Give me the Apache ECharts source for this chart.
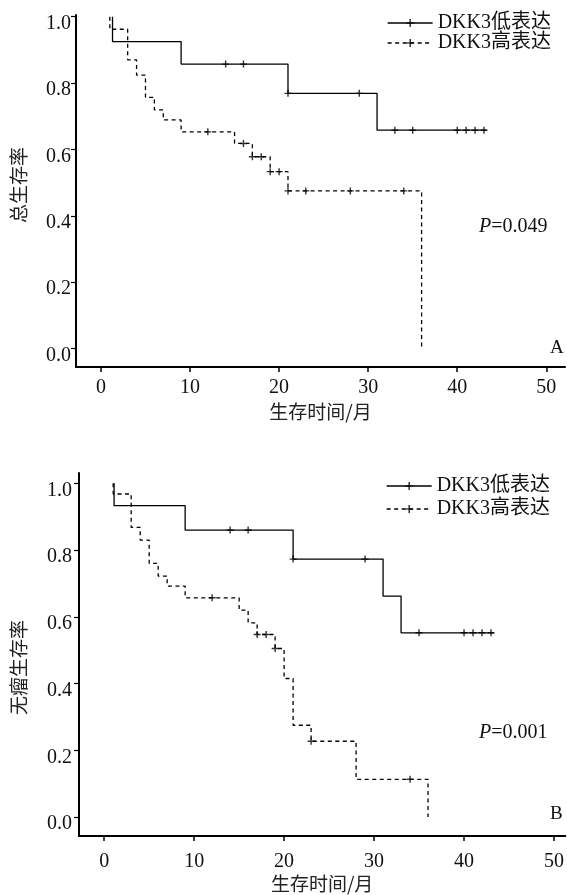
<!DOCTYPE html>
<html>
<head>
<meta charset="utf-8">
<script src="https://cdn.jsdelivr.net/npm/echarts@6/dist/echarts.min.js"></script>
<style>
html,body{margin:0;padding:0;background:#fff;}
#chart{width:567px;height:895px;}
</style>
</head>
<body>
<div id="chart"></div>
<script>
// ---- data ----
const seriesNames = ['DKK3低表达', 'DKK3高表达'];
const xTicks = [0, 10, 20, 30, 40, 50];
const yTicks = [0, 0.2, 0.4, 0.6, 0.8, 1.0];
const xTitle = '生存时间/月';
const yTitleA = '总生存率';
const yTitleB = '无瘤生存率';
const pTextA = 'P=0.049';
const pTextB = 'P=0.001';

// Panel A: overall survival
const osLowEventT = [1.3, 9, 21, 31];
const osLowSurv = [0.925, 0.857, 0.769, 0.658];
const osLowEnd = 43.3;
const osLowCensor = [14, 16, 21, 29, 33, 35, 40, 41, 42, 43];

const osHighEventT = [1, 3, 4, 5, 6, 7, 9, 15, 17, 19, 21, 36];
const osHighSurv = [0.962, 0.870, 0.824, 0.757, 0.719, 0.689, 0.653, 0.618, 0.578, 0.533, 0.475, 0.0];
const osHighEnd = 36;
const osHighCensor = [12, 16, 17, 18, 19, 20, 21, 23, 28, 34];

// Panel B: tumor-free survival
const dfsLowEventT = [1.1, 9, 21, 31, 33];
const dfsLowSurv = [0.933, 0.860, 0.773, 0.662, 0.552];
const dfsLowEnd = 43.3;
const dfsLowCensor = [14, 16, 21, 29, 35, 40, 41, 42, 43];

const dfsHighEventT = [1, 3, 4, 5, 6, 7, 9, 15, 16, 17, 19, 20, 21, 23, 28, 36];
const dfsHighSurv = [0.968, 0.868, 0.830, 0.760, 0.722, 0.692, 0.657, 0.620, 0.582, 0.547, 0.505, 0.415, 0.275, 0.227, 0.113, 0.0];
const dfsHighEnd = 36;
const dfsHighCensor = [12, 17, 18, 19, 23, 34];

// ---- helpers ----
function kmSteps(eventT, surv, endT) {
  const pts = [[eventT[0], 1]];
  let prev = 1;
  eventT.forEach((t, i) => { pts.push([t, prev]); pts.push([t, surv[i]]); prev = surv[i]; });
  if (endT > eventT[eventT.length - 1]) pts.push([endT, prev]);
  return pts;
}
function survAt(eventT, surv, t) {
  let s = 1;
  for (let i = 0; i < eventT.length; i++) if (eventT[i] <= t) s = surv[i];
  return s;
}
function censorPts(eventT, surv, cens) {
  return cens.map(t => [t, survAt(eventT, surv, t)]);
}

const SERIF = '"Liberation Serif", "Times New Roman", "Noto Sans CJK SC", serif';
const CJK = '"Noto Sans CJK SC", sans-serif';
const INK = '#111';
const PLUS = 'path://M5,0L5,10M0,5L10,5';
const DASH = [4, 3.5];

function lineSeries(name, data, idx, dashed) {
  return {
    type: 'line', name: name, data: data, xAxisIndex: idx, yAxisIndex: idx,
    symbol: PLUS, showSymbol: false, silent: true, animation: false,
    itemStyle: { color: '#000', borderColor: '#000', borderWidth: 1.3 },
    lineStyle: { color: '#000', width: 1.3, type: dashed ? DASH : 'solid' },
    z: 3
  };
}
function censorSeries(data, idx) {
  return {
    type: 'scatter', name: 'censor' + idx, data: data, xAxisIndex: idx, yAxisIndex: idx,
    symbol: PLUS, symbolSize: 7, silent: true, animation: false,
    itemStyle: { color: 'transparent', borderColor: '#000', borderWidth: 1.4 },
    z: 4
  };
}

function xAxisCfg(idx, max, margin, gap) {
  return {
    type: 'value', gridIndex: idx, min: -2.8, max: max,
    name: xTitle, nameLocation: 'middle', nameGap: gap,
    nameTextStyle: { fontFamily: CJK, fontSize: 19, color: '#222' },
    axisLine: { show: true, onZero: false, lineStyle: { color: '#000', width: 2 } },
    axisTick: { show: true, customValues: xTicks, length: 5, lineStyle: { color: '#000', width: 1.5 } },
    axisLabel: { show: true, customValues: xTicks, margin: margin, fontFamily: SERIF, fontSize: 20, color: INK },
    splitLine: { show: false }
  };
}
function yAxisCfg(idx, min, max, name, gap, margin, pad) {
  return {
    type: 'value', gridIndex: idx, min: min, max: max,
    name: name, nameLocation: 'middle', nameGap: gap,
    nameTextStyle: { fontFamily: CJK, fontSize: 19, color: '#222', padding: pad },
    axisLine: { show: true, onZero: false, lineStyle: { color: '#000', width: 2 } },
    axisTick: { show: true, customValues: yTicks, length: 5, lineStyle: { color: '#000', width: 1.2 } },
    axisLabel: {
      show: true, customValues: yTicks, margin: margin, fontFamily: SERIF, fontSize: 20, color: INK,
      verticalAlign: 'top', lineHeight: 14,
      formatter: v => Number(v).toFixed(1)
    },
    splitLine: { show: false }
  };
}
function legendCfg(left, top, gap) {
  return {
    left: left, top: top, orient: 'vertical', itemWidth: 45, itemHeight: 10, itemGap: gap,
    selectedMode: false,
    textStyle: { fontFamily: SERIF, fontSize: 20, color: INK },
    itemStyle: { color: 'transparent', borderColor: '#000', borderWidth: 1.2 },
    data: [
      { name: seriesNames[0], lineStyle: { type: 'solid', width: 1.3, color: '#000' } },
      { name: seriesNames[1], lineStyle: { type: DASH, width: 1.3, color: '#000' } }
    ]
  };
}
function pText(txt, left, top) {
  return {
    type: 'text', left: left, top: top, silent: true,
    style: {
      text: '{i|' + txt.charAt(0) + '}' + txt.slice(1),
      rich: { i: { fontStyle: 'italic', fontFamily: SERIF, fontSize: 20, fill: INK } },
      fontFamily: SERIF, fontSize: 20, fill: INK
    }
  };
}

const chart = echarts.init(document.getElementById('chart'), null, { renderer: 'canvas' });
chart.setOption({
  backgroundColor: '#fff',
  animation: false,
  grid: [
    { left: 76, top: 15, width: 489, height: 352, containLabel: false },
    { left: 79, top: 473, width: 488, height: 363, containLabel: false }
  ],
  xAxis: [xAxisCfg(0, 52.1, 11, 35), xAxisCfg(1, 51.25, 16, 38)],
  yAxis: [
    yAxisCfg(0, -0.0555, 1.005, yTitleA, 48, 5, [0, 0, 0, 12]),
    yAxisCfg(1, -0.057, 1.031, yTitleB, 51, 7, [0, 26, 0, 0])
  ],
  legend: [legendCfg(382, 8, 0), legendCfg(381, 471, 3)],
  graphic: [
    pText(pTextA, 479, 217),
    pText(pTextB, 479, 723),
    { type: 'text', left: 550, top: 339, silent: true, style: { text: 'A', fontFamily: SERIF, fontSize: 19, fill: INK } },
    { type: 'text', left: 550, top: 805, silent: true, style: { text: 'B', fontFamily: SERIF, fontSize: 19, fill: INK } }
  ],
  series: [
    lineSeries(seriesNames[0], kmSteps(osLowEventT, osLowSurv, osLowEnd), 0, false),
    lineSeries(seriesNames[1], kmSteps(osHighEventT, osHighSurv, osHighEnd), 0, true),
    censorSeries(censorPts(osLowEventT, osLowSurv, osLowCensor), 0),
    censorSeries(censorPts(osHighEventT, osHighSurv, osHighCensor), 0),
    lineSeries(seriesNames[0], kmSteps(dfsLowEventT, dfsLowSurv, dfsLowEnd), 1, false),
    lineSeries(seriesNames[1], kmSteps(dfsHighEventT, dfsHighSurv, dfsHighEnd), 1, true),
    censorSeries(censorPts(dfsLowEventT, dfsLowSurv, dfsLowCensor), 1),
    censorSeries(censorPts(dfsHighEventT, dfsHighSurv, dfsHighCensor), 1)
  ]
});
</script>
</body>
</html>
